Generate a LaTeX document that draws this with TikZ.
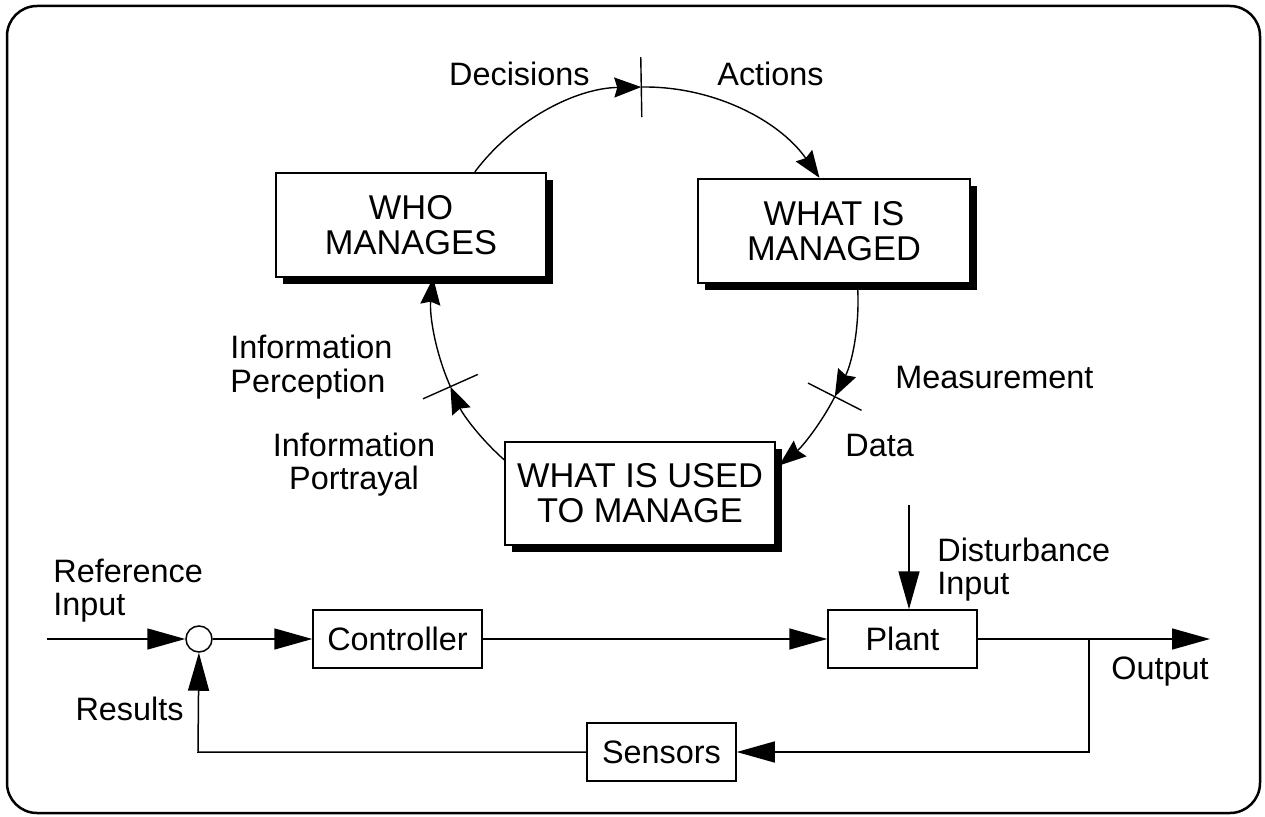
\documentclass[tikz,border=0pt]{standalone}
\usepackage{fontspec}
\setmainfont{Liberation Sans}
\usetikzlibrary{arrows.meta,calc,shadows}
\newcommand{\cycarc}[2]{% arc of the management cycle from angle #1 to angle #2
  \draw[cyc] ($(hub)+(#1:213)$) arc[start angle=#1, end angle=#2, radius=106.5pt];
}
\newcommand{\cyctick}[1]{% radial tick across the cycle at angle #1
  \draw[tickmark] ($(hub)+(#1:183)$) -- ($(hub)+(#1:243)$);
}
\tikzset{
  mgmt/.style={draw, line width=0.75pt, fill=white, minimum width=135pt, minimum height=52pt,
    align=center, inner sep=0pt, font=\fontsize{17.2}{17.5}\selectfont,
    drop shadow={shadow xshift=3.5pt, shadow yshift=-3.5pt, opacity=1, fill=black}},
  blk/.style={draw, line width=0.75pt, minimum height=29pt, inner sep=0pt,
    font=\fontsize{16.2}{16.5}\selectfont},
  lbl/.style={font=\fontsize{16.2}{16.5}\selectfont, inner sep=0pt},
  cyc/.style={line width=0.7pt, -{Stealth[length=13.5pt, width=10pt, inset=1.5pt]}},
  sig/.style={line width=0.75pt, -{Triangle[length=19pt, width=10.5pt]}},
  tickmark/.style={line width=0.7pt},
}

\begin{document}
\begin{tikzpicture}[x=0.5pt,y=0.5pt]
  \useasboundingbox (0,0) rectangle (1265,816);
  \draw[line width=1.25pt, rounded corners=15pt] (7,3) rectangle (1260,810);

  % management cycle
  \coordinate (hub) at (645,516);
  \node[mgmt] (who) at (411,591) {WHO\\MANAGES};
  \node[mgmt, minimum width=136pt] (what) at (834,585) {WHAT IS\\MANAGED};
  \node[mgmt, minimum height=51.5pt] (used) at (640,322.5) {WHAT IS USED\\TO MANAGE};
  \cycarc{143}{91} \cycarc{91}{35}
  \cycarc{4.5}{-27} \cycarc{-27}{-51}
  \cycarc{229}{204} \cycarc{204}{174}
  \cyctick{91} \cyctick{-27} \cyctick{204}
  \node[lbl, anchor=base east] (decis) at (590,730) {Decisions};
  \node[lbl, anchor=base west] (actn) at (717,730) {Actions};
  \node[lbl, anchor=base west] (meas) at (895,428) {Measurement};
  \node[lbl, anchor=base west] (data) at (845,360) {Data};
  \node[lbl, align=left, anchor=base west] (perc) at (230,424) {Information\\Perception};
  \node[lbl, align=center, anchor=base] (portr) at (354,327) {Information\\Portrayal};

  % feedback control loop
  \node[draw, circle, line width=0.75pt, minimum size=13pt, inner sep=0pt] (sum) at (199,177) {};
  \node[blk, minimum width=84.5pt] (ctrl) at (397.5,177) {Controller};
  \node[blk, minimum width=74.5pt] (plant) at (902.5,177) {Plant};
  \node[blk, minimum width=74.5pt] (sens) at (661.5,64) {Sensors};
  \coordinate (refin) at (47,177);
  \coordinate (out) at (1210,177);
  \coordinate (tap) at (1089,177);
  \coordinate (dist) at (909,311);
  \coordinate (ret) at (198,64);
  \draw[sig] (refin) -- (sum);
  \draw[sig] (sum) -- (ctrl);
  \draw[sig] (ctrl) -- (plant);
  \draw[sig] (plant) -- (out);
  \draw[sig] (dist) -- (dist |- plant.north);
  \draw[sig] (tap) |- (sens);
  \draw[sig] (sens) -- (ret) -- (sum);
  \node[lbl, align=left, anchor=base west] (refl) at (53,201) {Reference\\Input};
  \node[lbl, align=left, anchor=base west] (distl) at (937,222) {Disturbance\\Input};
  \node[lbl, anchor=base west] (outl) at (1111,137) {Output};
  \node[lbl, anchor=base east] (resl) at (184,96) {Results};
\end{tikzpicture}
\end{document}
